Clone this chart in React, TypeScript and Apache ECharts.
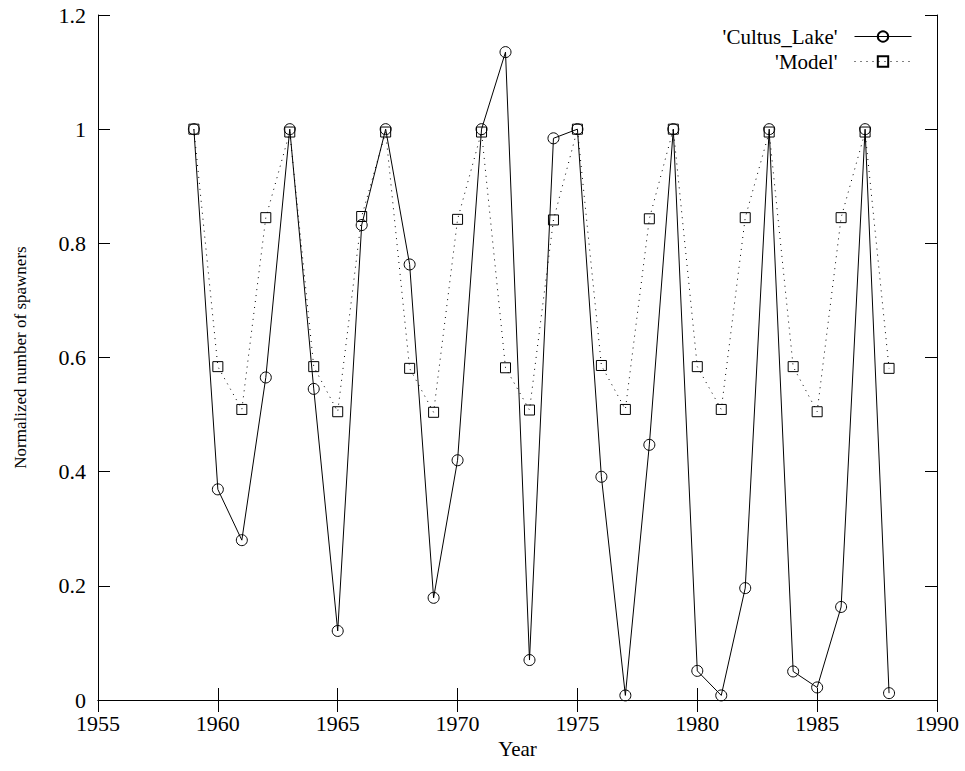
import React, { useEffect, useRef } from "react";
import * as echarts from "echarts";

const years = [1959,1960,1961,1962,1963,1964,1965,1966,1967,1968,1969,1970,1971,1972,1973,1974,1975,1976,1977,1978,1979,1980,1981,1982,1983,1984,1985,1986,1987,1988];
const cultusLake = [1.0,0.369,0.280,0.565,1.0,0.545,0.121,0.832,1.0,0.763,0.179,0.420,1.0,1.135,0.070,0.984,1.0,0.391,0.008,0.447,1.0,0.051,0.008,0.196,1.0,0.050,0.022,0.163,1.0,0.012];
const model = [1.0,0.584,0.509,0.845,0.995,0.584,0.505,0.847,0.995,0.581,0.504,0.842,0.995,0.582,0.508,0.841,1.0,0.586,0.509,0.843,1.0,0.584,0.509,0.845,0.995,0.584,0.505,0.845,0.995,0.581];

const FONT = "Liberation Serif, serif";

export default function App() {
  const ref = useRef<HTMLDivElement>(null);
  useEffect(() => {
    if (!ref.current) return;
    const chart = echarts.init(ref.current, undefined, { renderer: "svg" });
    const axisCommon = {
      axisLine: { show: true, lineStyle: { color: "#000", width: 1 } },
      axisTick: { show: true, inside: true, length: 12, lineStyle: { color: "#000", width: 1 } },
      splitLine: { show: false },
    };
    const fmtY = (v: number) => String(Number(v.toFixed(1)));
    chart.setOption({
      animation: false,
      backgroundColor: "#fff",
      textStyle: { fontFamily: FONT, color: "#000" },
      grid: { left: 98, right: 28, top: 15, bottom: 71, containLabel: false },
      legend: {
        right: 53,
        top: 26,
        padding: 0,
        orient: "vertical",
        align: "right",
        itemWidth: 57,
        itemHeight: 13,
        itemGap: 4,
        lineStyle: { width: 1 },
        textStyle: { fontFamily: FONT, fontSize: 21, color: "#000", padding: [0, 12, 0, 0] },
        data: ["'Cultus_Lake'", "'Model'"],
      },
      xAxis: [
        {
          type: "value",
          min: 1955,
          max: 1990,
          interval: 5,
          name: "Year",
          nameLocation: "middle",
          nameGap: 37,
          nameTextStyle: { fontFamily: FONT, fontSize: 21, color: "#000" },
          axisLabel: { fontFamily: FONT, fontSize: 22, color: "#000", margin: 12, formatter: (v: number) => String(v) },
          ...axisCommon,
        },
        {
          type: "value",
          position: "top",
          min: 1955,
          max: 1990,
          interval: 5,
          axisLabel: { show: false },
          ...axisCommon,
        },
      ],
      yAxis: [
        {
          type: "value",
          min: 0,
          max: 1.2,
          interval: 0.2,
          name: "Normalized number of spawners",
          nameLocation: "middle",
          nameGap: 69,
          nameTextStyle: { fontFamily: FONT, fontSize: 17, color: "#000" },
          axisLabel: { fontFamily: FONT, fontSize: 22, color: "#000", margin: 12, formatter: fmtY },
          ...axisCommon,
        },
        {
          type: "value",
          position: "right",
          min: 0,
          max: 1.2,
          interval: 0.2,
          axisLabel: { show: false },
          ...axisCommon,
        },
      ],
      series: [
        {
          name: "'Cultus_Lake'",
          type: "line",
          data: years.map((y, i) => [y, cultusLake[i]]),
          symbol: "circle",
          symbolSize: 11,
          showAllSymbol: true,
          lineStyle: { color: "#000", width: 1 },
          itemStyle: { color: "rgba(255,255,255,0)", borderColor: "#000", borderWidth: 1 },
          emphasis: { disabled: true },
        },
        {
          name: "'Model'",
          type: "line",
          data: years.map((y, i) => [y, model[i]]),
          symbol: "rect",
          symbolSize: 10,
          showAllSymbol: true,
          lineStyle: { color: "#000", width: 1, type: [1, 5] },
          itemStyle: { color: "rgba(255,255,255,0)", borderColor: "#000", borderWidth: 1 },
          emphasis: { disabled: true },
        },
      ],
    });
    return () => chart.dispose();
  }, []);
  return <div ref={ref} style={{ width: 965, height: 771, position: "absolute", left: 0, top: 0 }} />;
}
